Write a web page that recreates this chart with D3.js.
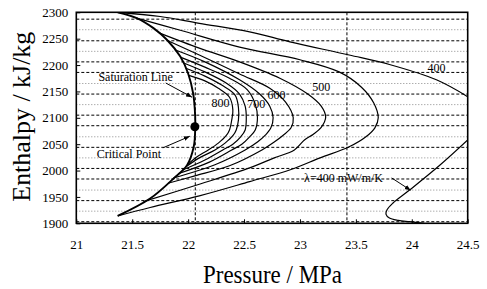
<!DOCTYPE html>
<html>
<head>
<meta charset="utf-8">
<script src="https://cdn.jsdelivr.net/npm/d3@7"></script>
<style>
  html, body { margin: 0; padding: 0; background: #fff; }
  svg { display: block; }
  text { font-family: "Liberation Serif", "DejaVu Serif", serif; fill: #000; }
</style>
</head>
<body>
<svg id="chart" width="487" height="289"></svg>
<script>
// ---------- data ----------
const pressureTicks = [21, 21.5, 22, 22.5, 23, 23.5, 24, 24.5];
const enthalpyTicks = [1900, 1950, 2000, 2050, 2100, 2150, 2200, 2250, 2300];
const pressureGrid = [22.064, 23.42];
const enthalpyGridMajor = [2287, 2246, 2206, 2186, 2145, 2105, 2085, 2044, 2004, 1984, 1943, 1903];
const enthalpyGridMinor = [2267, 2226, 2165, 2125, 2064, 2024, 1963, 1923];

// saturation line [P (MPa), H (kJ/kg)]
const saturationLine = [[21.37,2300],[21.54,2289],[21.69,2270],[21.81,2248],[21.93,2216],[22.00,2184],[22.045,2146],[22.06,2115],[22.064,2084],[22.05,2045],[21.99,2010],[21.87,1985],[21.66,1947],[21.37,1914]];
const criticalPoint = [22.06, 2083];

// thermal conductivity contours (mW/m/K)
const lambda400Upper = [[21.37,2300],[21.75,2292],[22.10,2279],[22.55,2263],[22.91,2244],[23.44,2219],[23.80,2201],[24.22,2172],[24.50,2140]];
const lambda400Lower = [[24.50,2058],[24.25,2010],[23.98,1963],[23.83,1938],[23.78,1926],[23.77,1917],[23.80,1910],[23.88,1905.5],[23.98,1903],[24.11,1900]];
const lambda500 = [[21.54,2289],[21.93,2266],[22.46,2234],[23.00,2210],[23.35,2187],[23.55,2158],[23.66,2128],[23.70,2100],[23.67,2081],[23.59,2064],[23.44,2045],[23.18,2024],[22.92,2002],[22.55,1979],[22.10,1952],[21.66,1930],[21.37,1914]];
const lambda600 = [[21.74,2261],[22.10,2232],[22.46,2206],[22.82,2175],[23.07,2145],[23.19,2122],[23.23,2101],[23.19,2082],[23.12,2069],[23.04,2058],[22.95,2039],[22.77,2024],[22.55,2005],[22.10,1974],[21.60,1941]];
const lambda700 = [[21.82,2246],[22.10,2219],[22.46,2183],[22.73,2156],[22.87,2130],[22.94,2100],[22.92,2081],[22.85,2067],[22.77,2054],[22.66,2039],[22.37,2009],[22.06,1990],[21.82,1976]];
const lambda800 = [[21.88,2229],[22.15,2206],[22.46,2172],[22.64,2145],[22.73,2122],[22.76,2100],[22.74,2081],[22.69,2067],[22.62,2054],[22.51,2039],[22.24,2011],[21.87,1986]];
const lambda900 = [[21.93,2215],[22.15,2196],[22.37,2175],[22.53,2153],[22.60,2126],[22.62,2100],[22.60,2077],[22.55,2064],[22.48,2050],[22.39,2039],[22.19,2016],[21.91,1994]];
const lambda1000 = [[21.96,2204],[22.15,2187],[22.34,2166],[22.46,2145],[22.51,2122],[22.52,2100],[22.51,2077],[22.47,2064],[22.40,2050],[22.31,2039],[22.15,2020],[21.95,2001]];
const lambda1100 = [[21.98,2194],[22.15,2179],[22.30,2162],[22.42,2143],[22.45,2119],[22.45,2096],[22.43,2077],[22.40,2066],[22.33,2052],[22.24,2039],[22.10,2024],[21.98,2007]];
const lambda1200 = [[22.00,2181],[22.15,2170],[22.27,2156],[22.37,2139],[22.40,2115],[22.39,2096],[22.37,2077],[22.34,2066],[22.27,2052],[22.18,2039],[22.08,2026],[22.00,2012]];

const contourLines = [lambda400Upper, lambda400Lower, lambda500, lambda600, lambda700, lambda800, lambda900, lambda1000, lambda1100, lambda1200];

const contourLabels = ["400", "500", "600", "700", "800"];
const contourLabelAt = [[24.22,2194],[23.19,2158],[22.79,2143],[22.61,2127],[22.29,2128]];

const annotations = ["Saturation Line", "Critical Point", "\u03bb=400 mW/m/K"];
const annotationAt = [[21.53,2178],[21.47,2032],[23.39,1987]];
const arrowFrom = [[21.80,2166],[21.774,2043],[23.82,1986]];
const arrowTo = [[22.035,2139],[22.015,2065],[23.99,1962.6]];

// ---------- layout ----------
const svg = d3.select("#chart");
const L = 76.3, R = 467.7, T = 12.3, B = 223.3;
const x = d3.scaleLinear().domain([21, 24.5]).range([L, R]);
const y = d3.scaleLinear().domain([1900, 2300]).range([B, T]);
const serif = "'Liberation Serif', 'DejaVu Serif', serif";

svg.append("defs").append("clipPath").attr("id", "plotclip")
  .append("rect").attr("x", L).attr("y", T).attr("width", R - L).attr("height", B - T);
svg.select("defs").append("marker")
  .attr("id", "arrow").attr("viewBox", "0 0 10 10").attr("refX", 10).attr("refY", 5)
  .attr("markerWidth", 6).attr("markerHeight", 6).attr("markerUnits", "userSpaceOnUse")
  .attr("orient", "auto")
  .append("path").attr("d", "M0,1 L10,5 L0,9 Z").attr("fill", "#000");

// grid
const grid = svg.append("g");
grid.selectAll("line.minor").data(enthalpyGridMinor).join("line")
  .attr("x1", L).attr("x2", R).attr("y1", d => y(d)).attr("y2", d => y(d))
  .attr("stroke", "#8a8a8a").attr("stroke-width", 1).attr("stroke-dasharray", "1,2");
grid.selectAll("line.major").data(enthalpyGridMajor).join("line")
  .attr("x1", L).attr("x2", R).attr("y1", d => y(d)).attr("y2", d => y(d))
  .attr("stroke", "#000").attr("stroke-width", 1).attr("stroke-dasharray", "3,2");
grid.selectAll("line.v").data(pressureGrid).join("line")
  .attr("x1", d => x(d)).attr("x2", d => x(d)).attr("y1", T).attr("y2", B)
  .attr("stroke", "#000").attr("stroke-width", 1).attr("stroke-dasharray", "3,2");

// axes
const xAxis = d3.axisBottom(x).tickValues(pressureTicks).tickFormat(d => String(d))
  .tickSizeInner(-4).tickSizeOuter(0).tickPadding(16);
const yAxis = d3.axisLeft(y).tickValues(enthalpyTicks).tickFormat(d => String(d))
  .tickSizeInner(-4).tickSizeOuter(0).tickPadding(8);
const gx = svg.append("g").attr("transform", `translate(0,${B})`).call(xAxis);
const gy = svg.append("g").attr("transform", `translate(${L},0)`).call(yAxis);
[gx, gy].forEach(g => {
  g.attr("font-family", null).attr("font-size", null);
  g.select(".domain").remove();
  g.selectAll("line").attr("stroke", "#000").attr("stroke-width", 1);
  g.selectAll("text").style("font-family", serif).style("font-size", "13px").attr("fill", "#000");
});

// curves
const line = d3.line().x(d => x(d[0])).y(d => y(d[1])).curve(d3.curveCatmullRom.alpha(0.5));
const plot = svg.append("g").attr("clip-path", "url(#plotclip)");
plot.selectAll("path.contour").data(contourLines).join("path")
  .attr("d", line).attr("fill", "none").attr("stroke", "#000").attr("stroke-width", 1.2);
plot.append("path").datum(saturationLine).attr("d", line)
  .attr("fill", "none").attr("stroke", "#000").attr("stroke-width", 1.9);

// frame
svg.append("rect").attr("x", L).attr("y", T).attr("width", R - L).attr("height", B - T)
  .attr("fill", "none").attr("stroke", "#000").attr("stroke-width", 1.6);

// critical point
svg.append("circle").attr("cx", x(criticalPoint[0])).attr("cy", y(criticalPoint[1]))
  .attr("r", 4.5).attr("fill", "#000");

// contour labels
svg.selectAll("text.clabel").data(contourLabels).join("text")
  .attr("x", (d, i) => x(contourLabelAt[i][0])).attr("y", (d, i) => y(contourLabelAt[i][1]))
  .attr("dy", "0.35em").attr("text-anchor", "middle")
  .style("font-family", serif).style("font-size", "12px").text(d => d);

// annotations + arrows
svg.selectAll("line.arrow").data(annotations).join("line")
  .attr("x1", (d, i) => x(arrowFrom[i][0])).attr("y1", (d, i) => y(arrowFrom[i][1]))
  .attr("x2", (d, i) => x(arrowTo[i][0])).attr("y2", (d, i) => y(arrowTo[i][1]))
  .attr("stroke", "#000").attr("stroke-width", 1).attr("marker-end", "url(#arrow)");
svg.selectAll("text.ann").data(annotations).join("text")
  .attr("x", (d, i) => x(annotationAt[i][0])).attr("y", (d, i) => y(annotationAt[i][1]))
  .attr("dy", "0.35em").attr("text-anchor", "middle")
  .style("font-family", serif).style("font-size", "12px").text(d => d);

// axis titles
svg.append("text").attr("x", 272.5).attr("y", 283).attr("text-anchor", "middle")
  .attr("textLength", 139).attr("lengthAdjust", "spacingAndGlyphs")
  .style("font-family", serif).style("font-size", "25px").text("Pressure / MPa");
svg.append("text").attr("transform", "translate(30,116.7) rotate(-90)").attr("text-anchor", "middle")
  .attr("textLength", 170).attr("lengthAdjust", "spacingAndGlyphs")
  .style("font-family", serif).style("font-size", "26px").text("Enthalpy / kJ/kg");
</script>
</body>
</html>
